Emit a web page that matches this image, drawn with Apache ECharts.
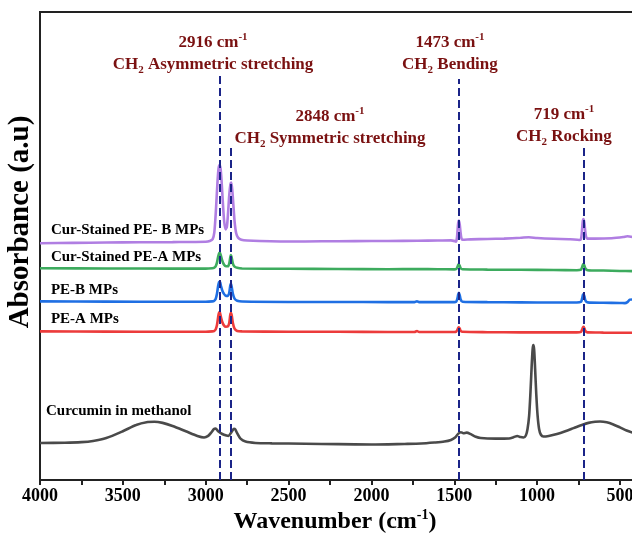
<!DOCTYPE html>
<html>
<head>
<meta charset="utf-8">
<script src="https://cdn.jsdelivr.net/npm/echarts@6/dist/echarts.min.js"></script>
<style>html,body{margin:0;padding:0;background:#fff;overflow:hidden;width:632px;height:543px}#c{width:712px;height:543px}</style>
</head>
<body>
<div id="c"></div>
<script>
// ---- data (wavenumber cm-1, absorbance a.u. incl. vertical offset) ----
const curStainedPEB = [[4000,1.214],[3800,1.216],[3600,1.218],[3400,1.219],[3200,1.220],[3000,1.222],[2975,1.226],[2958,1.235],[2948,1.27],[2940,1.36],[2934,1.45],[2928,1.54],[2922,1.60],[2916,1.615],[2910,1.595],[2904,1.53],[2897,1.43],[2889,1.33],[2880,1.285],[2872,1.30],[2865,1.37],[2858,1.46],[2851,1.515],[2846,1.525],[2840,1.49],[2833,1.41],[2825,1.32],[2816,1.265],[2805,1.243],[2785,1.232],[2750,1.228],[2500,1.223],[2300,1.224],[2100,1.225],[1900,1.226],[1720,1.227],[1600,1.228],[1520,1.229],[1497,1.225],[1490,1.222],[1484,1.24],[1480,1.28],[1476,1.32],[1472,1.33],[1467,1.31],[1462,1.27],[1457,1.24],[1450,1.232],[1400,1.234],[1300,1.236],[1200,1.238],[1100,1.242],[1050,1.245],[1000,1.241],[900,1.237],[800,1.235],[745,1.231],[738,1.232],[733,1.245],[728,1.29],[724,1.33],[720,1.338],[715,1.32],[710,1.28],[705,1.25],[698,1.238],[650,1.238],[550,1.240],[480,1.246],[455,1.25],[425,1.246]];
const curStainedPEA = [[4000,1.086],[3600,1.085],[3200,1.084],[3000,1.084],[2960,1.086],[2950,1.088],[2940,1.096],[2932,1.115],[2925,1.145],[2919,1.163],[2914,1.165],[2908,1.15],[2900,1.125],[2890,1.105],[2878,1.096],[2866,1.096],[2858,1.11],[2852,1.14],[2848,1.154],[2843,1.14],[2836,1.11],[2826,1.094],[2810,1.088],[2780,1.085],[2500,1.083],[2200,1.082],[1900,1.081],[1720,1.082],[1600,1.081],[1500,1.080],[1488,1.082],[1481,1.092],[1476,1.103],[1472,1.106],[1467,1.098],[1461,1.086],[1450,1.081],[1300,1.079],[1100,1.078],[900,1.077],[760,1.076],[735,1.079],[728,1.092],[723,1.105],[719,1.108],[714,1.098],[708,1.084],[695,1.076],[600,1.074],[500,1.072],[425,1.071]];
const peB = [[4000,0.916],[3600,0.915],[3200,0.914],[3000,0.914],[2960,0.916],[2950,0.918],[2940,0.928],[2932,0.955],[2925,0.995],[2919,1.015],[2914,1.016],[2908,0.995],[2900,0.972],[2890,0.955],[2878,0.944],[2866,0.944],[2858,0.96],[2852,0.995],[2848,1.008],[2843,0.99],[2836,0.955],[2826,0.93],[2810,0.919],[2780,0.915],[2500,0.913],[2200,0.913],[1900,0.912],[1740,0.912],[1725,0.917],[1712,0.912],[1600,0.912],[1500,0.912],[1488,0.915],[1481,0.93],[1476,0.952],[1472,0.96],[1467,0.948],[1461,0.925],[1450,0.914],[1300,0.912],[1100,0.911],[900,0.910],[760,0.910],[735,0.914],[728,0.932],[723,0.950],[719,0.954],[714,0.94],[708,0.92],[695,0.911],[600,0.909],[500,0.908],[470,0.907],[455,0.912],[440,0.925],[425,0.926]];
const peA = [[4000,0.762],[3600,0.761],[3200,0.760],[3000,0.760],[2960,0.762],[2950,0.764],[2940,0.772],[2932,0.795],[2925,0.835],[2919,0.86],[2914,0.858],[2908,0.835],[2900,0.81],[2890,0.793],[2878,0.786],[2866,0.788],[2858,0.805],[2852,0.845],[2848,0.858],[2843,0.845],[2836,0.805],[2826,0.776],[2810,0.764],[2780,0.762],[2500,0.760],[2200,0.760],[1900,0.759],[1740,0.759],[1725,0.764],[1712,0.759],[1600,0.759],[1500,0.759],[1488,0.761],[1481,0.770],[1476,0.780],[1472,0.783],[1467,0.776],[1461,0.765],[1450,0.760],[1300,0.758],[1100,0.757],[900,0.757],[760,0.757],[735,0.760],[728,0.772],[723,0.783],[719,0.786],[714,0.776],[708,0.763],[695,0.757],[600,0.756],[425,0.755]];
const curcuminMeOH = [[4000,0.190],[3850,0.191],[3750,0.194],[3680,0.200],[3600,0.215],[3500,0.250],[3420,0.282],[3350,0.297],[3310,0.299],[3260,0.293],[3200,0.277],[3120,0.250],[3050,0.226],[3010,0.218],[2985,0.226],[2965,0.245],[2950,0.262],[2940,0.264],[2925,0.250],[2900,0.236],[2875,0.228],[2862,0.226],[2845,0.245],[2830,0.262],[2822,0.260],[2810,0.240],[2790,0.212],[2760,0.197],[2700,0.190],[2600,0.188],[2400,0.186],[2200,0.184],[2000,0.182],[1800,0.185],[1700,0.187],[1620,0.192],[1560,0.197],[1520,0.205],[1495,0.218],[1475,0.238],[1460,0.245],[1445,0.240],[1425,0.243],[1400,0.235],[1370,0.222],[1340,0.215],[1250,0.212],[1170,0.213],[1140,0.220],[1120,0.226],[1100,0.220],[1082,0.218],[1068,0.228],[1058,0.26],[1048,0.33],[1040,0.45],[1033,0.58],[1027,0.67],[1023,0.692],[1018,0.67],[1012,0.57],[1005,0.44],[997,0.33],[988,0.262],[977,0.232],[962,0.223],[930,0.226],[880,0.236],[830,0.250],[780,0.266],[730,0.282],[690,0.293],[650,0.299],[620,0.300],[580,0.296],[540,0.285],[500,0.270],[460,0.254],[425,0.243]];

const seriesNames = ['Cur-Stained PE- B MPs','Cur-Stained PE-A MPs','PE-B MPs','PE-A MPs','Curcumin in methanol'];
const peakWavenumbers = [2916, 2848, 1473, 719];
const peakModes = ['Asymmetric stretching', 'Symmetric stretching', 'Bending', 'Rocking'];
const xTicks = [4000, 3500, 3000, 2500, 2000, 1500, 1000, 500];

// ---- styling / layout ----
const FONT = '"Liberation Serif","Times New Roman",serif';
const colors = ['#b07ee2', '#3dab5e', '#1f6fe3', '#ec3b3b', '#4a4a4a'];
const seriesData = [curStainedPEB, curStainedPEA, peB, peA, curcuminMeOH];
const labelAnchors = [[3934,1.282],[3934,1.145],[3934,0.974],[3934,0.826],[3964,0.354]];
const annotAnchors = [[2956,2.185],[2250,1.806],[1526,2.185],[838,1.816]];
const dashTops = [2.072, 1.703, 2.056, 1.703];

const lineSeries = seriesData.map((d, i) => ({
  type: 'line', name: seriesNames[i], data: d, showSymbol: false, symbol: 'none',
  smooth: 0.25, lineStyle: {color: colors[i], width: 2.6}, z: 2, silent: true
}));

const ANN = '#7a1111';
const baseT = {fontFamily: FONT, fontWeight: 'bold', fontSize: 17, color: ANN, lineHeight: 22, verticalAlign: 'middle'};
const rich = {
  b: baseT,
  sup: Object.assign({}, baseT, {fontSize: 11, lineHeight: 12, verticalAlign: 'top'}),
  sub: Object.assign({}, baseT, {fontSize: 11, lineHeight: 10, verticalAlign: 'bottom'})
};

const annotSeries = {
  type: 'scatter', symbolSize: 0, silent: true, z: 5,
  itemStyle: {opacity: 1},
  data: peakWavenumbers.map((w, i) => ({value: annotAnchors[i], name: String(w)})),
  label: {
    show: true, position: 'inside', align: 'center', verticalAlign: 'middle', opacity: 1,
    formatter: p => '{b|' + p.name + ' cm}{sup|-1}\n{b|CH}{sub|2}{b| ' + peakModes[p.dataIndex] + '}',
    rich: rich
  }
};

const nameSeries = {
  type: 'scatter', symbolSize: 0, silent: true, z: 5,
  itemStyle: {opacity: 1},
  data: seriesNames.map((n, i) => ({value: labelAnchors[i], name: n})),
  label: {show: true, position: 'right', distance: 0, formatter: p => p.name, opacity: 1,
    fontFamily: FONT, fontWeight: 'bold', fontSize: 15, color: '#000'}
};

const dashSeries = {
  type: 'line', data: [], silent: true, z: 6,
  markLine: {
    silent: true, symbol: ['none','none'], animation: false,
    label: {show: false},
    lineStyle: {color: '#1b2488', width: 2, type: [8, 4], opacity: 1},
    data: peakWavenumbers.map((w, i) => [{coord: [w, 0]}, {coord: [w, dashTops[i]]}])
  }
};

const chart = echarts.init(document.getElementById('c'), null, {renderer: 'canvas'});
chart.setOption({
  animation: false,
  backgroundColor: '#fff',
  grid: {left: 40, top: 12, right: 9.2, bottom: 63, show: true, borderColor: '#222', borderWidth: 2, containLabel: false},
  xAxis: {
    type: 'value', inverse: true, min: 0, max: 4000, interval: 500,
    axisLine: {show: true, lineStyle: {color: '#222', width: 2}},
    axisTick: {show: true, inside: false, length: 5, lineStyle: {color: '#222', width: 2}},
    minorTick: {show: true, splitNumber: 2, length: 5, lineStyle: {color: '#222', width: 2}},
    splitLine: {show: false},
    axisLabel: {fontFamily: FONT, fontWeight: 'bold', fontSize: 18, color: '#000', margin: 7,
      formatter: v => xTicks.indexOf(v) >= 0 ? String(v) : ''}
  },
  yAxis: {
    type: 'value', min: 0, max: 2.4,
    axisLine: {show: false}, axisTick: {show: false}, axisLabel: {show: false}, splitLine: {show: false}
  },
  graphic: [
    {type: 'text', x: 21, y: 222, rotation: Math.PI / 2,
      style: {text: 'Absorbance (a.u)', fontFamily: FONT, fontWeight: 'bold', fontSize: 29, fill: '#000', align: 'center', verticalAlign: 'middle'}},
    {type: 'text', x: 335, y: 522,
      style: {text: '{t|Wavenumber (cm}{s|-1}{t|)}', align: 'center', verticalAlign: 'middle',
        rich: {
          t: {fontFamily: FONT, fontWeight: 'bold', fontSize: 24, fill: '#000', lineHeight: 28, verticalAlign: 'middle'},
          s: {fontFamily: FONT, fontWeight: 'bold', fontSize: 14, fill: '#000', lineHeight: 14, verticalAlign: 'top'}
        }}}
  ],
  series: lineSeries.concat([dashSeries, annotSeries, nameSeries])
});
</script>
</body>
</html>
